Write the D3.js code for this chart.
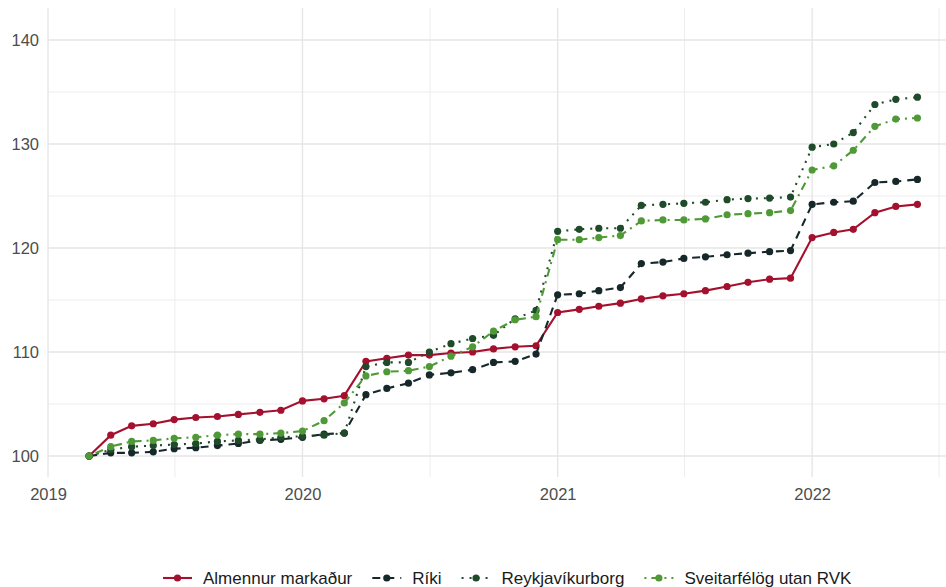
<!DOCTYPE html>
<html>
<head>
<meta charset="utf-8">
<script src="https://cdn.jsdelivr.net/npm/d3@7"></script>
<style>
  body { margin: 0; background: #fff; }
  svg { display: block; font-family: "Liberation Sans", Arial, sans-serif; }
</style>
</head>
<body>
<svg id="chart"></svg>
<script>
const width = 946;
const height = 587;

// monthly index values, Mar 2019 - Jun 2022
const startMonth = new Date(2019, 2, 1);
const endMonth = new Date(2022, 6, 1);
const months = d3.timeMonth.range(startMonth, endMonth);

const seriesNames = ["Almennur markaður", "Ríki", "Reykjavíkurborg", "Sveitarfélög utan RVK"];

const almennur = [100, 102.0, 102.9, 103.1, 103.5, 103.7, 103.8, 104.0, 104.2, 104.4,
  105.3, 105.5, 105.8, 109.1, 109.4, 109.7, 109.7, 109.9, 110.0, 110.3, 110.5, 110.6,
  113.8, 114.1, 114.4, 114.7, 115.1, 115.4, 115.6, 115.9, 116.3, 116.7, 117.0, 117.1,
  121.0, 121.5, 121.8, 123.4, 124.0, 124.2];
const riki = [100, 100.3, 100.3, 100.4, 100.7, 100.8, 101.0, 101.2, 101.5, 101.6,
  101.8, 102.1, 102.2, 105.9, 106.5, 107.0, 107.8, 108.0, 108.3, 109.0, 109.1, 109.8,
  115.5, 115.6, 115.9, 116.2, 118.5, 118.65, 119.0, 119.15, 119.35, 119.5, 119.65, 119.75,
  124.2, 124.4, 124.5, 126.3, 126.4, 126.6];
const reykjavik = [100, 100.6, 100.9, 101.0, 101.1, 101.2, 101.4, 101.5, 101.6, 101.8,
  101.9, 102.0, 102.2, 108.6, 109.0, 109.0, 110.0, 110.8, 111.3, 111.6, 113.2, 114.0,
  121.6, 121.8, 121.9, 121.9, 124.1, 124.2, 124.3, 124.4, 124.65, 124.75, 124.8, 124.9,
  129.7, 130.0, 131.1, 133.8, 134.3, 134.5];
const sveitarfelog = [100, 100.9, 101.4, 101.5, 101.7, 101.8, 102.0, 102.1, 102.1, 102.2,
  102.4, 103.4, 105.1, 107.7, 108.1, 108.2, 108.6, 109.6, 110.5, 112.0, 113.1, 113.4,
  120.8, 120.8, 121.0, 121.2, 122.6, 122.7, 122.7, 122.8, 123.2, 123.3, 123.4, 123.6,
  127.5, 127.9, 129.4, 131.7, 132.4, 132.5];

const yTicks = [100, 110, 120, 130, 140];
const yMinor = [105, 115, 125, 135];
const xTicks = [2019, 2020, 2021, 2022];
const xMinor = [2019, 2020, 2021, 2022];

const colors = ["#a3112e", "#17282a", "#1f4b2a", "#4f9a36"];
const dashes = [null, "8,6", "2,6", "2,5,8,5"];

const series = [almennur, riki, reykjavik, sveitarfelog].map((vals, i) => ({
  name: seriesNames[i],
  color: colors[i],
  dash: dashes[i],
  values: vals.map((v, j) => ({date: months[j], value: v}))
}));

const panel = {left: 48, right: 946, top: 8, bottom: 477};

const svg = d3.select("#chart")
              .attr("width", width)
              .attr("height", height);

const x = d3.scaleTime()
            .domain([new Date(2019, 0, 1), new Date(2022, 6, 12)])
            .range([panel.left, panel.right]);

const y = d3.scaleLinear()
            .domain([97.98, 143.08])
            .range([panel.bottom, panel.top]);

// grid
const grid = svg.append("g");
grid.selectAll(".yminor")
    .data(yMinor)
    .enter()
    .append("line")
    .attr("x1", panel.left).attr("x2", panel.right)
    .attr("y1", d => y(d)).attr("y2", d => y(d))
    .style("stroke", "#ededed")
    .style("stroke-width", 1);
grid.selectAll(".xminor")
    .data(xMinor)
    .enter()
    .append("line")
    .attr("x1", d => x(new Date(d, 6, 2))).attr("x2", d => x(new Date(d, 6, 2)))
    .attr("y1", panel.top).attr("y2", panel.bottom)
    .style("stroke", "#ededed")
    .style("stroke-width", 1);
grid.selectAll(".ymajor")
    .data(yTicks)
    .enter()
    .append("line")
    .attr("x1", panel.left).attr("x2", panel.right)
    .attr("y1", d => y(d)).attr("y2", d => y(d))
    .style("stroke", "#e6e6e6")
    .style("stroke-width", 1.4);
grid.selectAll(".xmajor")
    .data(xTicks)
    .enter()
    .append("line")
    .attr("x1", d => x(new Date(d, 0, 1))).attr("x2", d => x(new Date(d, 0, 1)))
    .attr("y1", panel.top).attr("y2", panel.bottom)
    .style("stroke", "#e6e6e6")
    .style("stroke-width", 1.4);

// axes (labels only)
const yAxis = svg.append("g")
                 .attr("transform", "translate(" + (panel.left - 9) + ",0)")
                 .call(d3.axisLeft(y).tickValues(yTicks).tickSize(0).tickPadding(0));
const xAxis = svg.append("g")
                 .attr("transform", "translate(0," + (panel.bottom + 7) + ")")
                 .call(d3.axisBottom(x)
                         .tickValues(xTicks.map(d => new Date(d, 0, 1)))
                         .tickFormat(d3.timeFormat("%Y"))
                         .tickSize(0).tickPadding(4));
[xAxis, yAxis].forEach(a => {
  a.select(".domain").remove();
  a.selectAll("text")
   .style("font-size", "16.5px")
   .style("fill", "#4d4d4d")
   .style("font-family", "'Liberation Sans', Arial, sans-serif");
});

// lines + points
const line = d3.line()
               .x(d => x(d.date))
               .y(d => y(d.value));

const groups = svg.append("g")
                  .selectAll("g")
                  .data(series)
                  .enter()
                  .append("g");

groups.append("path")
      .attr("d", d => line(d.values))
      .style("fill", "none")
      .style("stroke", d => d.color)
      .style("stroke-width", 2.1)
      .style("stroke-dasharray", d => d.dash);

groups.selectAll("circle")
      .data(d => d.values.map(v => ({...v, color: d.color})))
      .enter()
      .append("circle")
      .attr("cx", d => x(d.date))
      .attr("cy", d => y(d.value))
      .attr("r", 3.6)
      .style("fill", d => d.color);

// legend
const legend = svg.append("g")
                  .attr("transform", "translate(0,578)");
let lx = 163;
series.forEach(s => {
  const item = legend.append("g").attr("transform", "translate(" + lx + ",0)");
  item.append("line")
      .attr("x1", 0).attr("x2", 29)
      .attr("y1", 0).attr("y2", 0)
      .style("stroke", s.color)
      .style("stroke-width", 2.1)
      .style("stroke-dasharray", s.dash);
  item.append("circle")
      .attr("cx", 14.5).attr("cy", 0).attr("r", 3.6)
      .style("fill", s.color);
  const t = item.append("text")
                .attr("x", 40)
                .attr("y", 6)
                .style("font-size", "17px")
                .style("fill", "#1a1a1a")
                .text(s.name);
  lx += 40 + t.node().getComputedTextLength() + 20;
});
</script>
</body>
</html>
